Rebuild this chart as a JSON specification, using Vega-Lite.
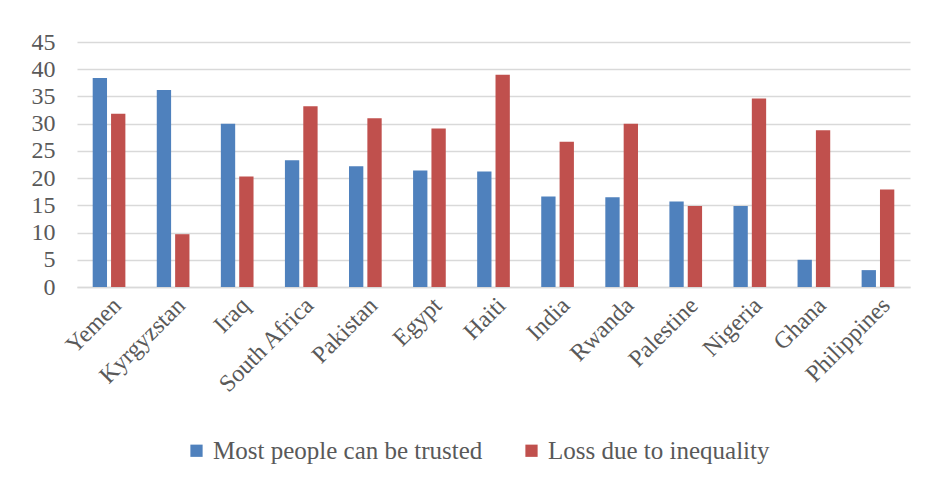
{
  "$schema": "https://vega.github.io/schema/vega-lite/v6.json",
  "width": 833,
  "height": 245,
  "autosize": {"type": "none"},
  "padding": {"left": 77, "top": 42, "right": 16, "bottom": 194},
  "background": "white",
  "data": {
    "values": [
      {"country": "Yemen", "series": "Most people can be trusted", "value": 38.4},
      {"country": "Yemen", "series": "Loss due to inequality", "value": 31.8},
      {"country": "Kyrgyzstan", "series": "Most people can be trusted", "value": 36.2},
      {"country": "Kyrgyzstan", "series": "Loss due to inequality", "value": 9.7},
      {"country": "Iraq", "series": "Most people can be trusted", "value": 30.0},
      {"country": "Iraq", "series": "Loss due to inequality", "value": 20.3},
      {"country": "South Africa", "series": "Most people can be trusted", "value": 23.3},
      {"country": "South Africa", "series": "Loss due to inequality", "value": 33.2},
      {"country": "Pakistan", "series": "Most people can be trusted", "value": 22.2},
      {"country": "Pakistan", "series": "Loss due to inequality", "value": 31.0},
      {"country": "Egypt", "series": "Most people can be trusted", "value": 21.4},
      {"country": "Egypt", "series": "Loss due to inequality", "value": 29.1},
      {"country": "Haiti", "series": "Most people can be trusted", "value": 21.2},
      {"country": "Haiti", "series": "Loss due to inequality", "value": 39.0},
      {"country": "India", "series": "Most people can be trusted", "value": 16.6},
      {"country": "India", "series": "Loss due to inequality", "value": 26.7},
      {"country": "Rwanda", "series": "Most people can be trusted", "value": 16.5},
      {"country": "Rwanda", "series": "Loss due to inequality", "value": 30.0},
      {"country": "Palestine", "series": "Most people can be trusted", "value": 15.7},
      {"country": "Palestine", "series": "Loss due to inequality", "value": 14.9},
      {"country": "Nigeria", "series": "Most people can be trusted", "value": 14.9},
      {"country": "Nigeria", "series": "Loss due to inequality", "value": 34.6},
      {"country": "Ghana", "series": "Most people can be trusted", "value": 5.0},
      {"country": "Ghana", "series": "Loss due to inequality", "value": 28.8},
      {"country": "Philippines", "series": "Most people can be trusted", "value": 3.1},
      {"country": "Philippines", "series": "Loss due to inequality", "value": 17.9}
    ]
  },
  "mark": {"type": "bar"},
  "encoding": {
    "x": {
      "field": "country",
      "type": "nominal",
      "sort": null,
      "scale": {"paddingInner": 0.49, "paddingOuter": 0.245},
      "axis": {
        "title": null,
        "labelAngle": -45,
        "labelFont": "Liberation Serif",
        "labelFontSize": 24,
        "labelColor": "#595959",
        "labelPadding": 6,
        "ticks": false,
        "domainColor": "#d9d9d9",
        "domainWidth": 1.5
      }
    },
    "xOffset": {
      "field": "series",
      "type": "nominal",
      "sort": ["Most people can be trusted", "Loss due to inequality"],
      "scale": {"paddingInner": 0.22}
    },
    "y": {
      "field": "value",
      "type": "quantitative",
      "scale": {"domain": [0, 45], "nice": false},
      "axis": {
        "title": null,
        "values": [0, 5, 10, 15, 20, 25, 30, 35, 40, 45],
        "labelFont": "Liberation Serif",
        "labelFontSize": 24,
        "labelColor": "#595959",
        "labelPadding": 22,
        "ticks": false,
        "domain": false,
        "gridColor": "#d9d9d9",
        "gridWidth": 1.5
      }
    },
    "color": {
      "field": "series",
      "type": "nominal",
      "sort": ["Most people can be trusted", "Loss due to inequality"],
      "scale": {
        "domain": ["Most people can be trusted", "Loss due to inequality"],
        "range": ["#4f81bd", "#c0504d"]
      },
      "legend": {
        "title": null,
        "orient": "none",
        "legendX": 107,
        "legendY": 396,
        "direction": "horizontal",
        "symbolType": "square",
        "symbolSize": 150,
        "symbolStrokeWidth": 0,
        "labelFont": "Liberation Serif",
        "labelFontSize": 25,
        "labelColor": "#595959",
        "labelLimit": 400,
        "labelOffset": 4,
        "columnPadding": 36
      }
    }
  },
  "config": {
    "font": "Liberation Serif",
    "legend": {"labelFont": "Liberation Serif"},
    "view": {"stroke": null}
  }
}
